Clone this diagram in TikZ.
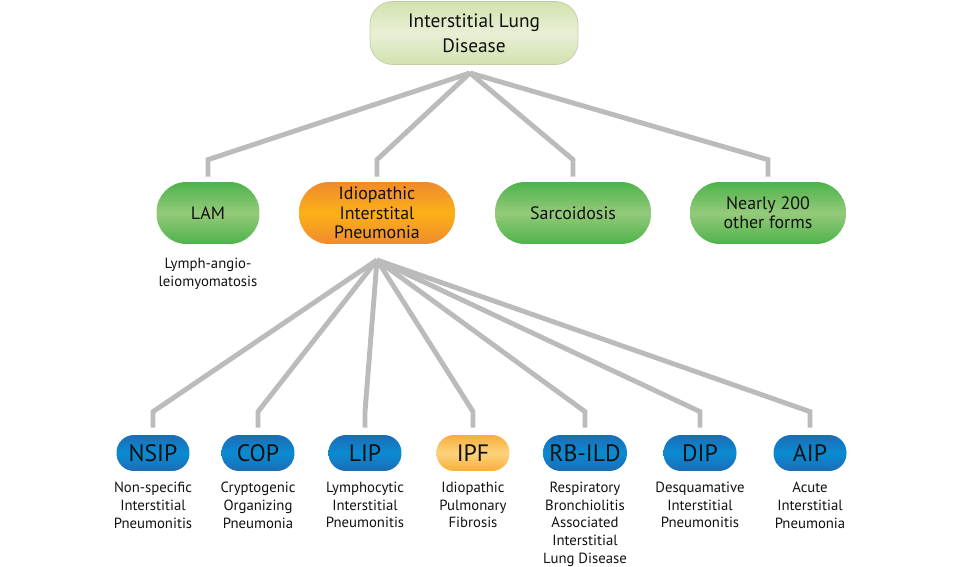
\documentclass[tikz,border=0pt]{standalone}
\usepackage{fontspec}
\setmainfont{PT Sans}
\usepackage{xcolor}
\usetikzlibrary{positioning}

\definecolor{txt}{HTML}{111111}
\definecolor{linkgray}{HTML}{BBBBBB}
\definecolor{rootedge}{HTML}{D2E2AE}
\definecolor{rootmid}{HTML}{E8F0D6}
\definecolor{greenedge}{HTML}{4DB34A}
\definecolor{greenmid}{HTML}{95CA7B}
\definecolor{orangeedge}{HTML}{F08A2E}
\definecolor{orangemid}{HTML}{FBB117}
\definecolor{blueedge}{HTML}{1C6CB6}
\definecolor{bluemid}{HTML}{0A8BD2}
\definecolor{ipfedge}{HTML}{F8AE3A}
\definecolor{ipfmid}{HTML}{FDD27C}

\begin{document}
\begin{tikzpicture}[
  x=0.02cm, y=-0.02cm,
  every node/.style={text=txt},
  rootbox/.style={rounded corners=0.45cm, minimum width=4.16cm, minimum height=1.26cm,
    align=center, font=\fontsize{11}{14}\selectfont,
    top color=rootedge, bottom color=rootedge, middle color=rootmid, draw=rootedge!80!gray},
  group/.style={rounded corners=0.6cm, minimum width=3.12cm, minimum height=1.24cm,
    align=center, inner sep=1pt, font=\fontsize{10.2}{11}\selectfont},
  greenpill/.style={group, top color=greenedge, bottom color=greenedge, middle color=greenmid},
  orangepill/.style={group, top color=orangeedge, bottom color=orangeedge, middle color=orangemid},
  kind/.style={rounded corners=0.35cm, minimum width=1.46cm, minimum height=0.72cm,
    inner sep=1pt, font=\fontsize{13.5}{15}\selectfont},
  bluepill/.style={kind, top color=blueedge, bottom color=blueedge, middle color=bluemid},
  ipfpill/.style={kind, top color=ipfedge, bottom color=ipfedge, middle color=ipfmid},
  desc/.style={align=center, inner sep=0pt, font=\fontsize{8.4}{10.2}\selectfont},
  link/.style={draw=linkgray, line width=2.8pt}
]
\useasboundingbox (0,0) rectangle (960,567);

% Top
\node[rootbox] (ild) at (474,33) {Interstitial Lung\\Disease};

% Main groups
\node[greenpill, minimum width=2.06cm] (lam) at (208,213) {LAM};
\node[orangepill] (iip) at (377,213) {Idiopathic\\Interstital\\Pneumonia};
\node[greenpill] (sarc) at (573,213) {Sarcoidosis};
\node[greenpill] (other) at (768,213) {Nearly 200\\other forms};
\node[desc, below=0.26cm of lam] (lamdesc) {Lymph-angio-\\leiomyomatosis};

% Idiopathic kinds
\node[bluepill] (nsip) at (153,453) {NSIP};
\node[bluepill] (cop) at (258,453) {COP};
\node[bluepill] (lip) at (365,453) {LIP};
\node[ipfpill] (ipf) at (473,453) {IPF};
\node[bluepill, minimum width=1.68cm] (rbild) at (585,453) {RB-ILD};
\node[bluepill] (dip) at (700,453) {DIP};
\node[bluepill] (aip) at (810,453) {AIP};

\node[desc, below=0.2cm of nsip] (nsipdesc) {Non-specific\\Interstitial\\Pneumonitis};
\node[desc, below=0.2cm of cop] (copdesc) {Cryptogenic\\Organizing\\Pneumonia};
\node[desc, below=0.2cm of lip] (lipdesc) {Lymphocytic\\Interstitial\\Pneumonitis};
\node[desc, below=0.2cm of ipf] (ipfdesc) {Idiopathic\\Pulmonary\\Fibrosis};
\node[desc, below=0.2cm of rbild] (rbilddesc) {Respiratory\\Bronchiolitis\\Associated\\Interstitial\\Lung Disease};
\node[desc, below=0.2cm of dip] (dipdesc) {Desquamative\\Interstitial\\Pneumonitis};
\node[desc, below=0.2cm of aip] (aipdesc) {Acute\\Interstitial\\Pneumonia};

% Connectors
\coordinate (ildhub) at (470,73);
\coordinate (iiphub) at (377,260);
\foreach \n in {lam,iip,sarc,other}
  \draw[link] (ildhub) -- ([yshift=0.44cm]\n.north) -- ([yshift=0.1cm]\n.north);
\foreach \n in {nsip,cop,lip,ipf,rbild,dip,aip}
  \draw[link] (iiphub) -- ([yshift=0.46cm]\n.north) -- ([yshift=0.14cm]\n.north);
\end{tikzpicture}
\end{document}
